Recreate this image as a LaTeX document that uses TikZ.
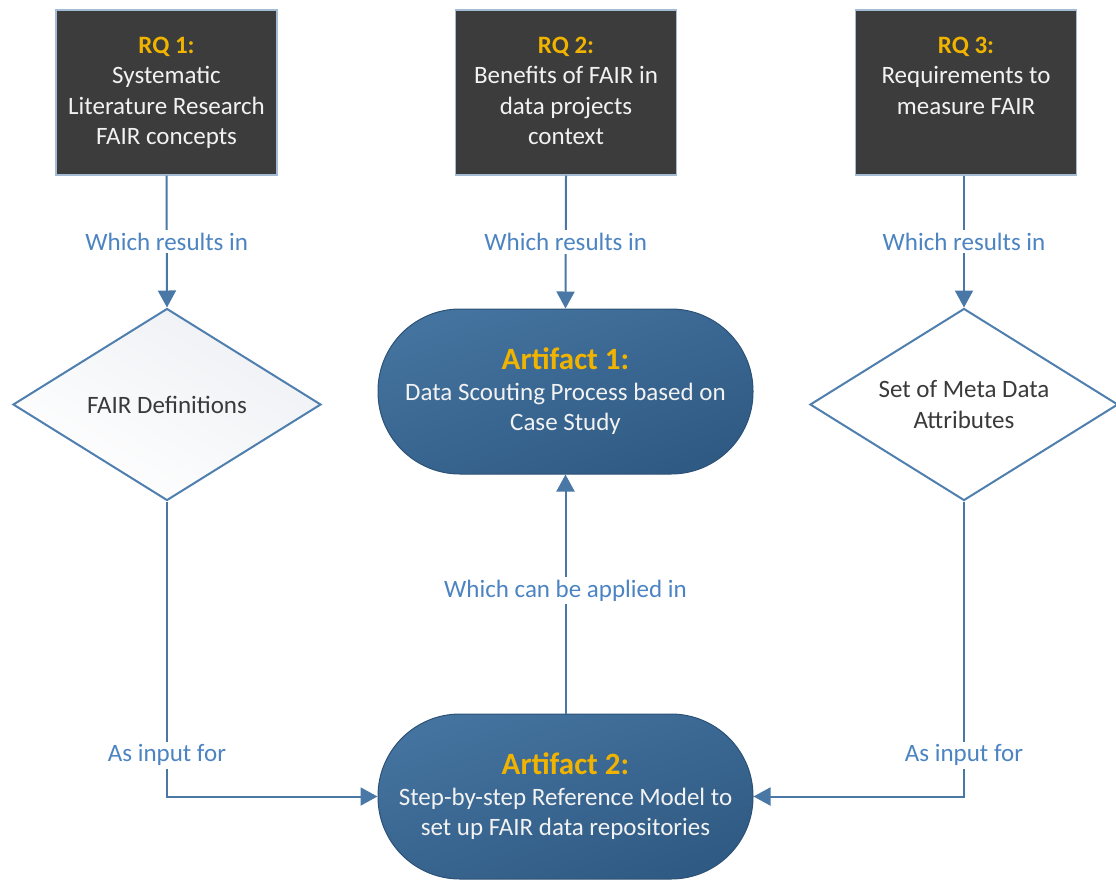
\documentclass[tikz,border=0pt]{standalone}
\usepackage{fontspec}
\setmainfont{Carlito}
\usetikzlibrary{arrows.meta,shapes.geometric,calc}

\definecolor{rqfill}{HTML}{3C3C3C}
\definecolor{rqedge}{HTML}{A4BBD4}
\definecolor{gold}{HTML}{F0B400}
\definecolor{connblue}{HTML}{4A78A6}
\definecolor{lblblue}{HTML}{4C84C2}
\definecolor{artA}{HTML}{44739F}
\definecolor{artB}{HTML}{2F5A83}
\definecolor{artedge}{HTML}{2C5277}
\definecolor{dedge}{HTML}{4E7FAE}
\definecolor{dtext}{HTML}{3A3A3A}
\definecolor{dshade}{HTML}{EEF0F4}

% research-question box body: bold gold heading, then the question, top aligned
\newcommand\rqbody[2]{\parbox[t][111pt][t]{215pt}{\centering\fontsize{25}{30.5}\selectfont{\bfseries\color{gold}#1}\par #2}}
\newcommand\arthead[1]{{\fontsize{31}{36}\selectfont\bfseries\color{gold}#1}}

\tikzset{
  rq/.style={draw=rqedge, line width=1.2pt, fill=rqfill, minimum width=221pt,
    minimum height=165pt, inner sep=0pt, text=white!95!black},
  artifact/.style={draw=artedge, line width=1pt, top color=artA, bottom color=artB,
    shading angle=20, rounded corners=82pt, minimum width=375pt, minimum height=165pt,
    text=white!95!black, align=center, font=\fontsize{25}{30.5}\selectfont},
  decision/.style={diamond, aspect=1.6, draw=dedge, line width=2pt, fill=white,
    minimum width=308pt, minimum height=192pt, inner sep=0pt, text=dtext,
    align=center, font=\fontsize{25}{30.5}\selectfont},
  conn/.style={draw=connblue, line width=2pt, -{Triangle[width=18pt,length=17pt]}},
  lbl/.style={fill=white, text=lblblue, inner sep=3pt, font=\fontsize{25}{30}\selectfont},
}

\begin{document}
\begin{tikzpicture}[x=1pt, y=-1pt]
  \useasboundingbox (0,0) rectangle (1116,879);

  % research questions
  \node[rq] (rq1) at (166.5,92.5) {\rqbody{RQ 1:}{Systematic\\Literature Research\\FAIR concepts}};
  \node[rq] (rq2) at (566,92.5) {\rqbody{RQ 2:}{Benefits of FAIR in\\data projects\\context}};
  \node[rq] (rq3) at (966,92.5) {\rqbody{RQ 3:}{Requirements to\\measure FAIR}};

  % intermediate results
  \node[decision, top color=dshade, bottom color=white, shading angle=-30] (d1) at (167,404.5) {FAIR Definitions};
  \node[decision] (d3) at (964,404.5) {Set of Meta Data\\Attributes};

  % artifacts
  \node[artifact] (a1) at (565.5,391.5) {\arthead{Artifact 1:}\\Data Scouting Process based on\\Case Study};
  \node[artifact] (a2) at (565.5,796.5) {\arthead{Artifact 2:}\\Step-by-step Reference Model to\\set up FAIR data repositories};

  % connectors
  \draw[conn] (rq1.south) -- node[lbl]{Which results in} (d1.north);
  \draw[conn] (rq2.south) -- node[lbl]{Which results in} (a1.north);
  \draw[conn] (rq3.south -| d3.north) -- node[lbl]{Which results in} (d3.north);

  \draw[conn] (d1.south) -- node[lbl, pos=0.86]{As input for} (d1.south |- a2.west) -- (a2.west);
  \draw[conn] (d3.south) -- node[lbl, pos=0.86]{As input for} (d3.south |- a2.east) -- (a2.east);

  \draw[conn] (a2.north) -- node[lbl, pos=0.515]{Which can be applied in} (a1.south);
\end{tikzpicture}
\end{document}
